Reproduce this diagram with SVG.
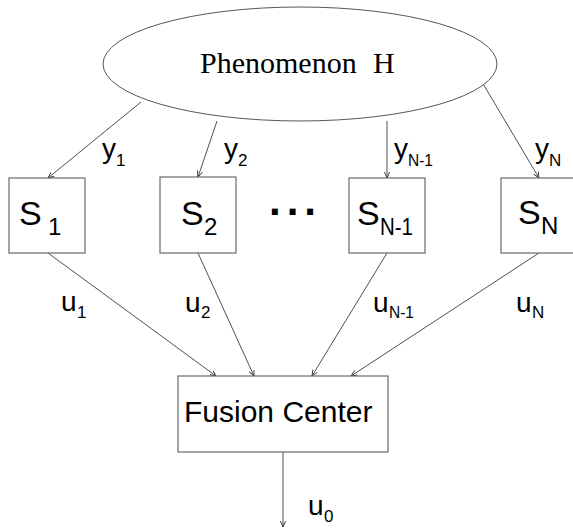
<svg xmlns="http://www.w3.org/2000/svg" width="573" height="528" viewBox="0 0 573 528">
<style>
.box{fill:#fff;stroke:#6a6a6a;stroke-width:1.2}
.ln{stroke:#505050;stroke-width:1;fill:none;marker-end:url(#ah)}
.t{font-family:"Liberation Sans",Arial,sans-serif;fill:#000}
.big{font-size:30px}
.s{font-size:34px}
.lab{font-size:28px}
.sub{font-size:17px}
.ssub{font-size:24px}
</style>
<defs>
<marker id="ah" viewBox="0 0 8 8" refX="8" refY="4" markerWidth="6" markerHeight="6" orient="auto" markerUnits="userSpaceOnUse">
<path d="M0,0.5 L8,4 L0,7.5" fill="none" stroke="#303030" stroke-width="1.2"/>
</marker>
</defs>
<rect width="573" height="528" fill="#fff"/>
<g id="connectors">
<line class="ln" x1="141" y1="102" x2="48" y2="178"/>
<line class="ln" x1="217" y1="121" x2="198" y2="177"/>
<line class="ln" x1="387" y1="121" x2="387" y2="178"/>
<line class="ln" x1="482" y1="82" x2="539" y2="178"/>
<line class="ln" x1="48" y1="253" x2="216" y2="376"/>
<line class="ln" x1="198" y1="253" x2="254" y2="376"/>
<line class="ln" x1="387" y1="253" x2="312" y2="376"/>
<line class="ln" x1="539" y1="253" x2="351" y2="376"/>
<line class="ln" x1="283" y1="452" x2="283" y2="527"/>
</g>
<g id="labels">
<text class="t lab" x="102" y="158">y</text><text class="t sub" x="116" y="166">1</text>
<text class="t lab" x="224" y="158">y</text><text class="t sub" x="238" y="166">2</text>
<text class="t lab" x="394" y="158">y</text><text class="t sub" x="408" y="166" textLength="25" lengthAdjust="spacingAndGlyphs">N-1</text>
<text class="t lab" x="535" y="158">y</text><text class="t sub" x="549" y="166">N</text>
<text class="t lab" x="61" y="311">u</text><text class="t sub" x="77" y="318">1</text>
<text class="t lab" x="185" y="312">u</text><text class="t sub" x="201" y="318">2</text>
<text class="t lab" x="373" y="312">u</text><text class="t sub" x="389" y="318" textLength="25" lengthAdjust="spacingAndGlyphs">N-1</text>
<text class="t lab" x="516" y="312">u</text><text class="t sub" x="532" y="318">N</text>
<text class="t lab" x="308" y="515">u</text><text class="t sub" x="324" y="522">0</text>
</g>
<g id="phenomenon">
<ellipse cx="300" cy="64" rx="197" ry="57" fill="#fff" stroke="#555" stroke-width="1"/>
<text x="200" y="73" font-family="'Liberation Serif','Times New Roman',serif" font-size="30" fill="#000">Phenomenon<tspan x="373">H</tspan></text>
</g>
<g id="s1">
<rect class="box" x="9" y="178" width="76" height="75"/>
<text class="t s" x="19" y="225">S</text><text class="t ssub" x="48" y="235">1</text>
</g>
<g id="s2">
<rect class="box" x="160" y="177" width="76" height="76"/>
<text class="t s" x="181" y="225">S</text><text class="t ssub" x="204" y="235">2</text>
</g>
<g id="dots">
<text class="t" x="269" y="215" font-size="42" font-weight="bold" letter-spacing="6">...</text>
</g>
<g id="sn1">
<rect class="box" x="349" y="178" width="76" height="75"/>
<text class="t s" x="357" y="225">S</text><text class="t ssub" x="380" y="235" textLength="33" lengthAdjust="spacingAndGlyphs">N-1</text>
</g>
<g id="sn">
<rect class="box" x="501" y="178" width="76" height="75"/>
<text class="t s" x="518" y="224">S</text><text class="t ssub" x="541" y="234">N</text>
</g>
<g id="fusion">
<rect class="box" x="178" y="376" width="210" height="76"/>
<text class="t big" x="184" y="422">Fusion Center</text>
</g>
</svg>
